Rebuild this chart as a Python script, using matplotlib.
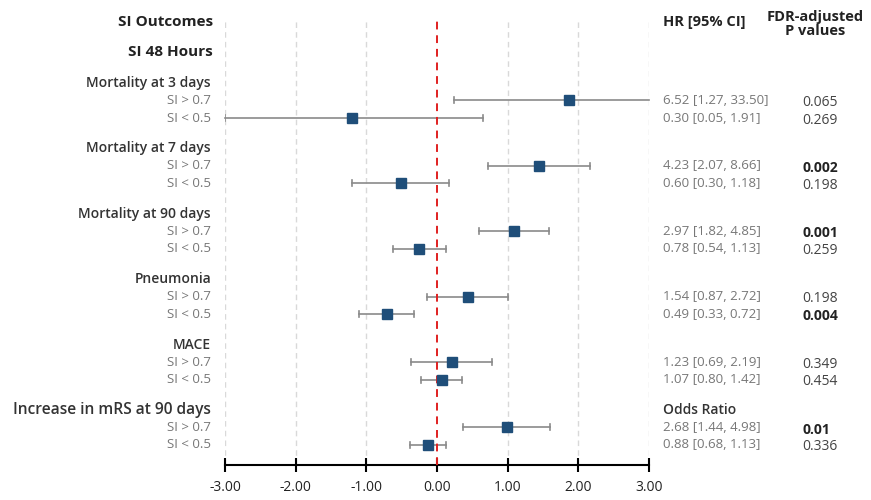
import numpy as np
import matplotlib
matplotlib.use("Agg")
from matplotlib import pyplot as plt

plt.rcParams['font.family'] = ['Open Sans', 'DejaVu Sans']

outcomes = ['Mortality at 3 days', 'Mortality at 7 days', 'Mortality at 90 days',
            'Pneumonia', 'MACE', 'Increase in mRS at 90 days']
groups = ['SI > 0.7', 'SI < 0.5']
hr = [[6.52, 0.30], [4.23, 0.60], [2.97, 0.78], [1.54, 0.49], [1.23, 1.07], [2.68, 0.88]]
lo = [[1.27, 0.05], [2.07, 0.30], [1.82, 0.54], [0.87, 0.33], [0.69, 0.80], [1.44, 0.68]]
hi = [[33.50, 1.91], [8.66, 1.18], [4.85, 1.13], [2.72, 0.72], [2.19, 1.42], [4.98, 1.13]]
pvals = [['0.065', '0.269'], ['0.002', '0.198'], ['0.001', '0.259'],
         ['0.198', '0.004'], ['0.349', '0.454'], ['0.01', '0.336']]
bold_p = {'0.002', '0.001', '0.004', '0.01'}
xticks = [-3, -2, -1, 0, 1, 2, 3]

fig = plt.figure(figsize=(8.71, 5.0), dpi=100)
ax = fig.add_axes([225/871, 35/500, 424/871, 445/500])
ax.set_xlim(-3, 3)
ax.set_ylim(465, 20)

for t in xticks:
    if t == 0:
        ax.axvline(0, color='#e02020', ls=(0, (4, 3)), lw=1.4, zorder=3)
    else:
        ax.axvline(t, color='#d9d9d9', ls=(0, (4, 3)), lw=1.0, zorder=0)

def fx(px):
    return px / 871

dark = '#222222'

fig.text(fx(213), 1 - 22/500, 'SI Outcomes', ha='right', va='center', fontsize=11, fontweight='bold', color=dark)
fig.text(fx(213), 1 - 52/500, 'SI 48 Hours', ha='right', va='center', fontsize=11, fontweight='bold', color=dark)
fig.text(fx(663), 1 - 22/500, 'HR [95% CI]', ha='left', va='center', fontsize=10.5, fontweight='bold', color=dark)
fig.text(fx(815), 1 - 24/500, 'FDR-adjusted\nP values', ha='center', va='center', fontsize=10.5,
         fontweight='bold', color=dark, linespacing=1.0)

for g, name in enumerate(outcomes):
    yh = 83 + 65.4 * g
    fs = 11.2 if g == 5 else 10
    fig.text(fx(211), 1 - yh/500, name, ha='right', va='center', fontsize=fs, fontweight='semibold', color='#333333')
    if g == 5:
        fig.text(fx(663), 1 - yh/500, 'Odds Ratio', ha='left', va='center', fontsize=10,
                 fontweight='semibold', color='#333333')
    for k in range(2):
        y = yh + 17.5 + 17.5 * k
        fig.text(fx(211), 1 - y/500, groups[k], ha='right', va='center', fontsize=9.5, color='#777777')
        est = np.log(hr[g][k])
        l = np.log(lo[g][k])
        h = np.log(hi[g][k])
        lc, hc = max(l, -3), min(h, 3)
        ax.plot([lc, hc], [y, y], color='#8a8a8a', lw=1.2, zorder=2, clip_on=False)
        for e, ec in ((l, lc), (h, hc)):
            if e == ec:
                ax.plot([e, e], [y - 3, y + 3], color='#8a8a8a', lw=1.2, zorder=2)
        ax.plot(est, y, marker='s', ms=6.5, color='#1f4e79', zorder=4, ls='none')
        fig.text(fx(663), 1 - y/500, '%.2f [%.2f, %.2f]' % (hr[g][k], lo[g][k], hi[g][k]),
                 ha='left', va='center', fontsize=9.5, color='#777777')
        p = pvals[g][k]
        fig.text(fx(802), 1 - (y + 2)/500, p, ha='left', va='center', fontsize=10,
                 fontweight='bold' if p in bold_p else 'normal',
                 color=dark if p in bold_p else '#444444')

for s in ['top', 'right', 'left']:
    ax.spines[s].set_visible(False)
ax.spines['bottom'].set_linewidth(1.5)
ax.spines['bottom'].set_color('black')
ax.set_yticks([])
ax.set_xticks(xticks)
ax.set_xticklabels(['%.2f' % t for t in xticks], fontsize=10, color=dark)
ax.tick_params(axis='x', direction='inout', length=10, width=1.5, pad=6)

fig.savefig('out.png', dpi=100)
